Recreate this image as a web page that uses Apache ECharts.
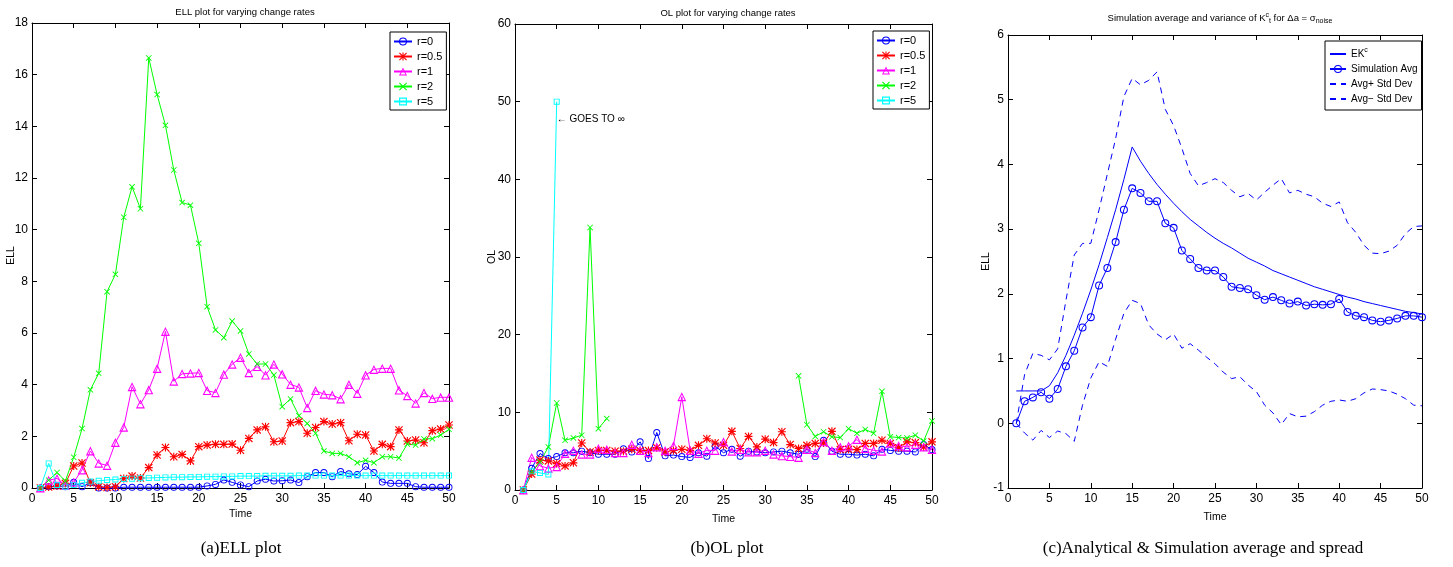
<!DOCTYPE html>
<html>
<head>
<meta charset="utf-8">
<script src="https://cdn.jsdelivr.net/npm/echarts@6/dist/echarts.min.js"></script>
<style>
html,body{margin:0;padding:0;background:#fff;}
#c{width:1453px;height:567px;}
</style>
</head>
<body>
<div id="c"></div>
<script>
const TIME = [1,2,3,4,5,6,7,8,9,10,11,12,13,14,15,16,17,18,19,20,21,22,23,24,25,26,27,28,29,30,31,32,33,34,35,36,37,38,39,40,41,42,43,44,45,46,47,48,49,50];

// (a) ELL plot
const ELL_R0 = [0,0.05,0.08,0.05,0.22,0.05,0.2,0,0,0, 0.03,0.03,0.03,0.03,0.03,0.03,0.03,0.03,0.03,0.03, 0.08,0.14,0.31,0.22,0.12,0.05,0.27,0.34,0.27,0.28, 0.31,0.21,0.44,0.6,0.6,0.44,0.64,0.55,0.52,0.84, 0.6,0.23,0.18,0.18,0.18,0.05,0.03,0.03,0.03,0.03];
const ELL_R05 = [0,0.04,0.08,0.18,0.85,0.97,0.2,0.05,0.02,0.05, 0.37,0.46,0.39,0.79,1.28,1.57,1.21,1.3,1.05,1.6, 1.66,1.69,1.69,1.7,1.46,1.92,2.25,2.37,1.79,1.82, 2.53,2.57,2.12,2.34,2.57,2.48,2.53,1.83,2.08,2.05, 1.43,1.69,1.6,2.25,1.82,1.86,1.75,2.22,2.28,2.44];
const ELL_R1 = [0,0.3,0.37,0.1,0.22,0.7,1.43,0.96,0.87,1.76, 2.35,3.92,3.25,3.8,4.63,6.06,4.13,4.42,4.44,4.46, 3.77,3.69,4.4,4.79,5.05,4.46,4.7,4.37,4.79,4.41, 4.01,3.9,3.11,3.77,3.63,3.6,3.45,4.01,3.66,4.37, 4.59,4.63,4.63,3.79,3.57,3.28,3.69,3.46,3.51,3.51];
const ELL_R2 = [0,0.3,0.6,0.27,1.19,2.3,3.8,4.44,7.6,8.27, 10.48,11.66,10.81,16.65,15.23,14.04,12.31,11.05,10.95,9.47, 7.02,6.12,5.82,6.46,6.08,5.19,4.8,4.8,4.37,3.15, 3.45,2.8,2.5,2.12,1.43,1.34,1.34,1.21,0.98,1.07, 0.98,1.21,1.21,1.16,1.7,1.66,1.9,1.91,2.05,2.27];
const ELL_R5 = [0,0.95,0.12,0.05,0.12,0.2,0.25,0.28,0.31,0.33, 0.35,0.36,0.38,0.39,0.4,0.41,0.42,0.42,0.43,0.43, 0.44,0.44,0.45,0.45,0.46,0.46,0.46,0.47,0.47,0.47, 0.47,0.48,0.48,0.48,0.48,0.48,0.48,0.48,0.48,0.48, 0.48,0.48,0.48,0.48,0.48,0.48,0.48,0.48,0.48,0.48];

// (b) OL plot
const OL_R0 = [0,2.8,4.7,4.05,4.3,4.8,4.8,5.0,4.8,4.6, 4.6,4.6,5.3,4.9,6.2,4.05,7.4,4.4,4.5,4.3, 4.2,4.8,4.35,5.65,4.8,5.25,4.35,5.0,4.9,4.8, 4.9,5.0,4.8,4.6,5.25,4.3,6.4,5.0,4.6,4.6, 4.5,4.6,4.4,5.25,5.1,5.0,5.0,4.9,5.85,5.2];
const OL_R05 = [0,2.05,3.85,3.75,3.4,3.1,3.5,6.05,4.9,5.1, 5.1,5.0,5.0,5.25,5.1,5.1,5.45,4.9,5.1,5.25, 5.1,5.75,6.6,6.05,5.75,7.55,5.35,6.9,5.55,6.55, 6.1,7.5,5.85,5.35,5.75,6.0,6.05,7.55,5.2,5.25, 5.2,6.0,6.0,6.4,6.0,5.45,6.2,6.1,5.55,6.2];
const OL_R1 = [0,4.2,3.1,2.8,3.0,4.7,5.1,4.6,4.6,5.35, 5.2,4.8,4.8,5.85,5.1,4.8,5.55,5.1,5.7,12.0, 5.1,4.7,5.1,5.1,6.2,5.0,5.2,4.9,4.9,5.1, 4.6,4.4,4.3,4.2,5.2,4.8,6.2,5.1,5.55,5.65, 6.5,5.35,5.1,5.0,6.05,5.7,5.55,5.85,5.55,5.2];
const OL_R2 = [0,2.35,3.6,5.55,11.2,6.4,6.7,7.05,33.8,7.9, 9.2,null,null,null,null,null,null,null,null,null, null,null,null,null,null,null,null,null,null,null, null,null,null,14.7,8.4,6.9,7.5,6.85,6.75,7.9, 7.3,7.8,7.3,12.7,6.85,6.75,6.7,7.05,6.3,8.9];
const OL_R5 = [0,2.4,2.2,2.0,50];

// (c) analytical & simulation
const EKC = [0.5,0.5,0.5,0.5,0.58,0.78,1.05,1.36,1.7,2.06, 2.45,2.87,3.3,3.77,4.27,4.05,3.86,3.69,3.54,3.4, 3.27,3.15,3.05,2.95,2.86,2.78,2.71,2.63,2.55,2.49, 2.43,2.36,2.31,2.26,2.21,2.16,2.11,2.07,2.03,1.99, 1.95,1.92,1.88,1.85,1.82,1.79,1.76,1.73,1.71,1.69];
const SIM_AVG = [0,0.34,0.4,0.48,0.38,0.53,0.88,1.12,1.48,1.64, 2.13,2.4,2.8,3.3,3.63,3.56,3.43,3.43,3.09,3.02, 2.67,2.54,2.4,2.36,2.36,2.26,2.11,2.09,2.07,1.98, 1.91,1.95,1.9,1.85,1.88,1.82,1.84,1.83,1.84,1.92, 1.72,1.66,1.64,1.59,1.57,1.59,1.62,1.66,1.66,1.64];
const AVG_PLUS = [0,0.75,1.08,1.05,0.98,1.15,1.9,2.6,2.78,2.78, 3.3,3.85,4.4,5.05,5.33,5.23,5.3,5.43,4.85,4.6, 4.25,3.86,3.67,3.72,3.78,3.72,3.6,3.5,3.55,3.45, 3.57,3.68,3.78,3.56,3.6,3.54,3.5,3.4,3.35,3.42, 3.1,2.95,2.75,2.63,2.62,2.66,2.75,2.93,3.04,3.05];
const AVG_MINUS = [0,-0.15,-0.26,-0.11,-0.22,-0.12,-0.16,-0.28,0.28,0.7, 0.95,0.88,1.3,1.7,1.9,1.85,1.52,1.38,1.29,1.38, 1.16,1.23,1.13,1.02,0.92,0.79,0.69,0.72,0.59,0.49, 0.28,0.16,-0.02,0.15,0.1,0.11,0.18,0.28,0.34,0.36, 0.34,0.38,0.47,0.53,0.52,0.5,0.45,0.38,0.28,0.27];

const LEGEND_R = ['r=0','r=0.5','r=1','r=2','r=5'];
const LEGEND_C = ['EKc','Simulation Avg','Avg+ Std Dev','Avg\u2212 Std Dev'];

// outline marker shapes (transparent inside, like MATLAB markers)
const O_CIRCLE = 'path://M0,5A5,5,0,1,0,10,5A5,5,0,1,0,0,5Z M1.3,5A3.7,3.7,0,1,1,8.7,5A3.7,3.7,0,1,1,1.3,5Z';
const O_TRI = 'path://M5,0L10,9L0,9Z M5,2.3L1.9,7.8L8.1,7.8Z';
const O_RECT = 'path://M0,0H10V10H0Z M1.5,1.5V8.5H8.5V1.5Z';
const STAR = 'path://M4.3,0H5.7V10H4.3Z M0,4.3H10V5.7H0Z M1,0L10,9L9,10L0,1Z M9,0L10,1L1,10L0,9Z';
const XMARK = 'path://M1,0L10,9L9,10L0,1Z M9,0L10,1L1,10L0,9Z';

const FONT = "'Liberation Sans', Arial, Helvetica, sans-serif";
const SERIF = "'Liberation Serif', 'Times New Roman', serif";

function pairs(vals){ return vals.map((v,i)=>[TIME[i], v===null ? '-' : v]); }

const grids = [
  {left:32, top:23, width:417, height:465},
  {left:515, top:24, width:417, height:466},
  {left:1008, top:35, width:414, height:453}
];

const xAxes = [], yAxes = [];
const yRanges = [[0,18,2],[0,60,10],[-1,6,1]];
const yNames = ['ELL','OL','ELL'];
const yNameGaps = [15,17,16];
const xNameGaps = [21,24,24];
grids.forEach((g,i)=>{
  const base = {gridIndex:i, type:'value', min:0, max:50, interval:5,
    axisLine:{show:true, onZero:false, lineStyle:{color:'#000', width:1}},
    axisTick:{show:true, inside:true, length:5, lineStyle:{color:'#000'}},
    splitLine:{show:false}};
  xAxes.push(Object.assign({}, base, {position:'bottom', name:'Time', nameLocation:'middle', nameGap:xNameGaps[i],
    nameMoveOverlap:false,
    nameTextStyle:{fontFamily:FONT, fontSize:10.5, color:'#000'},
    axisLabel:{show:true, fontFamily:FONT, fontSize:12, color:'#000', margin:5}}));
  xAxes.push(Object.assign({}, base, {position:'top', axisLabel:{show:false}}));
  const yb = {gridIndex:i, type:'value', min:yRanges[i][0], max:yRanges[i][1], interval:yRanges[i][2],
    axisLine:{show:true, onZero:false, lineStyle:{color:'#000', width:1}},
    axisTick:{show:true, inside:true, length:5, lineStyle:{color:'#000'}},
    splitLine:{show:false}};
  yAxes.push(Object.assign({}, yb, {position:'left', name:yNames[i], nameLocation:'middle', nameGap:yNameGaps[i], nameRotate:90,
    nameMoveOverlap:false,
    nameTextStyle:{fontFamily:FONT, fontSize:10.5, color:'#000'},
    axisLabel:{show:true, fontFamily:FONT, fontSize:12, color:'#000', margin:4}}));
  yAxes.push(Object.assign({}, yb, {position:'right', axisLabel:{show:false}}));
});

function lineSeries(name, vals, grid, color, symbol, size, extra){
  return Object.assign({
    name:name, type:'line', xAxisIndex:grid*2, yAxisIndex:grid*2,
    data:pairs(vals), symbol:symbol, symbolSize:size, showSymbol:symbol!=='none',
    connectNulls:false, clip:false,
    lineStyle:{color:color, width:1},
    itemStyle:{color:color, borderWidth:0},
    emphasis:{disabled:true}
  }, extra||{});
}

const series = [
  lineSeries('r=0', ELL_R0, 0, '#0000ff', O_CIRCLE, 7),
  lineSeries('r=0.5', ELL_R05, 0, '#ff0000', STAR, 8),
  lineSeries('r=1', ELL_R1, 0, '#ff00ff', O_TRI, 9),
  lineSeries('r=2', ELL_R2, 0, '#00ff00', XMARK, 6),
  lineSeries('r=5', ELL_R5, 0, '#00ffff', O_RECT, 6),

  lineSeries('r=0', OL_R0, 1, '#0000ff', O_CIRCLE, 7),
  lineSeries('r=0.5', OL_R05, 1, '#ff0000', STAR, 8),
  lineSeries('r=1', OL_R1, 1, '#ff00ff', O_TRI, 9),
  lineSeries('r=2', OL_R2, 1, '#00ff00', XMARK, 6),
  lineSeries('r=5', OL_R5, 1, '#00ffff', O_RECT, 6, {
    markPoint:{symbol:'circle', symbolSize:0, silent:true,
      label:{show:true, position:'right', distance:0, formatter:'\u2190 GOES TO \u221e',
        fontFamily:FONT, fontSize:10, color:'#000'},
      data:[{coord:[5, 47.7]}]}
  }),

  lineSeries('EKc', EKC, 2, '#0000ff', 'none', 0),
  lineSeries('Simulation Avg', SIM_AVG, 2, '#0000ff', O_CIRCLE, 8),
  lineSeries('Avg+ Std Dev', AVG_PLUS, 2, '#0000ff', 'none', 0, {lineStyle:{color:'#0000ff', width:1, type:[6,5]}}),
  lineSeries('Avg\u2212 Std Dev', AVG_MINUS, 2, '#0000ff', 'none', 0, {lineStyle:{color:'#0000ff', width:1, type:[6,5]}})
];

const legendBase = {orient:'vertical', backgroundColor:'#fff', borderColor:'#000', borderWidth:1,
  itemWidth:18, itemHeight:10, itemGap:4, padding:[4,4,3,3], selectedMode:false,
  textStyle:{fontFamily:FONT, fontSize:11, color:'#000'}};

const option = {
  animation:false,
  backgroundColor:'#fff',
  grid:grids,
  xAxis:xAxes,
  yAxis:yAxes,
  title:[
    {text:'ELL plot for varying change rates', left:240, top:2, textAlign:'center',
      textStyle:{fontFamily:FONT, fontSize:9.5, fontWeight:'normal', color:'#000'}},
    {text:'OL plot for varying change rates', left:723, top:3, textAlign:'center',
      textStyle:{fontFamily:FONT, fontSize:9.5, fontWeight:'normal', color:'#000'}},
    {text:'Simulation average and variance of K{sup|c}{sub|t} for \u0394a = \u03c3{sub|noise}', left:1215, top:7, textAlign:'center',
      textStyle:{fontFamily:FONT, fontSize:9.5, fontWeight:'normal', color:'#000',
        rich:{sup:{fontFamily:FONT, fontSize:7, padding:[0,0,6,0], color:'#000'},
              sub:{fontFamily:FONT, fontSize:7, padding:[6,0,0,0], color:'#000'}}}},
    {text:'(a)ELL plot', left:236, top:535, textAlign:'center',
      textStyle:{fontFamily:SERIF, fontSize:17, fontWeight:'normal', color:'#000'}},
    {text:'(b)OL plot', left:722, top:535, textAlign:'center',
      textStyle:{fontFamily:SERIF, fontSize:17, fontWeight:'normal', color:'#000'}},
    {text:'(c)Analytical & Simulation average and spread', left:1198, top:535, textAlign:'center',
      textStyle:{fontFamily:SERIF, fontSize:17, fontWeight:'normal', color:'#000'}}
  ],
  legend:[
    Object.assign({}, legendBase, {left:390, top:32, data:LEGEND_R}),
    Object.assign({}, legendBase, {left:873, top:31, data:LEGEND_R}),
    Object.assign({}, legendBase, {left:1325, top:41, itemWidth:16, itemGap:5, padding:[6,4,6,4],
      data:[
        {name:LEGEND_C[0], itemStyle:{opacity:0}},
        {name:LEGEND_C[1]},
        {name:LEGEND_C[2], itemStyle:{opacity:0}},
        {name:LEGEND_C[3], itemStyle:{opacity:0}}
      ],
      formatter:function(n){ return n==='EKc' ? 'EK{s|c}' : n; },
      textStyle:{fontFamily:FONT, fontSize:10, color:'#000',
        rich:{s:{fontFamily:FONT, fontSize:7, padding:[0,0,7,0], color:'#000'}}}})
  ],
  series:series
};

const chart = echarts.init(document.getElementById('c'), null, {renderer:'canvas'});
chart.setOption(option);
</script>
</body>
</html>
